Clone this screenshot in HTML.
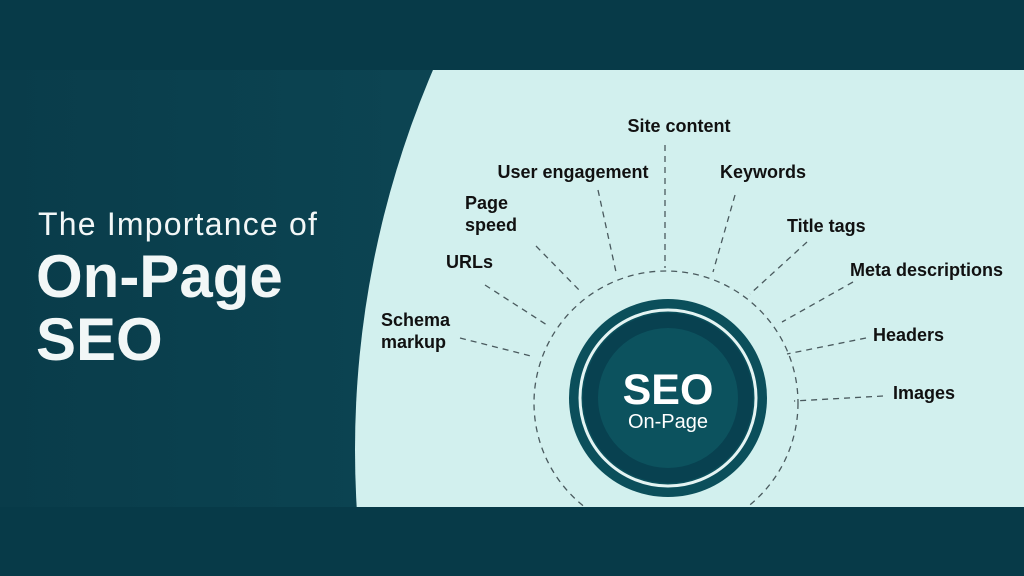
<!DOCTYPE html>
<html><head><style>
html,body{margin:0;padding:0;width:1024px;height:576px;overflow:hidden;background:#073a48;}
svg{display:block}
</style></head><body>
<svg width="1024" height="576" viewBox="0 0 1024 576" xmlns="http://www.w3.org/2000/svg">
<defs>
<linearGradient id="bg" x1="0" y1="0" x2="1" y2="0">
<stop offset="0" stop-color="#093c4a"/>
<stop offset="0.45" stop-color="#0c4553"/>
<stop offset="1" stop-color="#145c66"/>
</linearGradient>
<clipPath id="band"><rect x="0" y="70" width="1024" height="437"/></clipPath>
</defs>
<rect x="0" y="0" width="1024" height="576" fill="#073a48"/>
<rect x="0" y="70" width="1024" height="437" fill="url(#bg)"/>
<g clip-path="url(#band)">
<circle cx="1320" cy="450" r="965" fill="#d2f0ee"/>
<g fill="none" stroke="#4a5a5e" stroke-width="1.3" stroke-dasharray="6,5">
<circle cx="666" cy="403" r="132"/>
<line x1="665" y1="145" x2="665" y2="268"/>
<line x1="598" y1="190" x2="616" y2="272"/>
<line x1="735" y1="195" x2="713" y2="272"/>
<line x1="536" y1="246" x2="581" y2="292"/>
<line x1="807" y1="242" x2="750" y2="294"/>
<line x1="485" y1="285" x2="547" y2="325"/>
<line x1="853" y1="282" x2="782" y2="322"/>
<line x1="460" y1="338" x2="531" y2="356"/>
<line x1="866" y1="338" x2="787" y2="354"/>
<line x1="883" y1="396" x2="794" y2="401"/>
</g>
</g>
<circle cx="668" cy="398" r="99" fill="#0b4f5b"/>
<circle cx="668" cy="398" r="88" fill="none" stroke="#e4f4f3" stroke-width="3"/>
<circle cx="668" cy="398" r="85" fill="#084150"/>
<circle cx="668" cy="398" r="70" fill="#0c525e"/>
<text x="668" y="404" text-anchor="middle" font-family="Liberation Sans, sans-serif" font-weight="bold" font-size="43" fill="#fff">SEO</text>
<text x="668" y="428" text-anchor="middle" font-family="Liberation Sans, sans-serif" font-size="20" fill="#fff">On-Page</text>
<g font-family="Liberation Sans, sans-serif" font-weight="bold" font-size="18" fill="#111">
<text x="679" y="132" text-anchor="middle">Site content</text>
<text x="573" y="178" text-anchor="middle">User engagement</text>
<text x="763" y="178" text-anchor="middle">Keywords</text>
<text x="465" y="209">Page</text>
<text x="465" y="231">speed</text>
<text x="787" y="232">Title tags</text>
<text x="446" y="268">URLs</text>
<text x="850" y="276">Meta descriptions</text>
<text x="381" y="326">Schema</text>
<text x="381" y="348">markup</text>
<text x="873" y="341">Headers</text>
<text x="893" y="399">Images</text>
</g>
<g font-family="Liberation Sans, sans-serif" fill="#f2f7f7">
<text x="38" y="235" font-size="32" font-weight="300" letter-spacing="1.2">The Importance of</text>
<text x="36" y="297" font-size="60" font-weight="bold">On-Page</text>
<text x="36" y="360" font-size="60" font-weight="bold">SEO</text>
</g>
</svg>
</body></html>
